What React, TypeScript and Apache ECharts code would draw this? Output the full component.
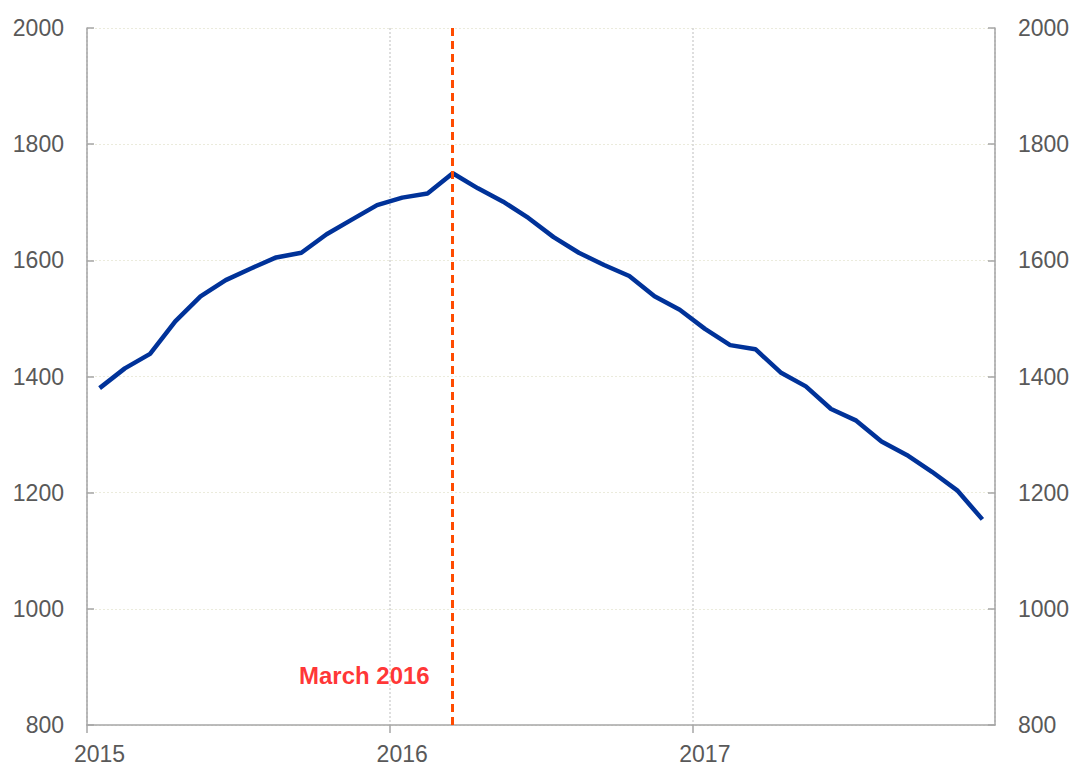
import React, { useEffect, useRef } from "react";
import * as echarts from "echarts";

// months since Jan 2015 (mid-month positions)
const months: number[] = Array.from({ length: 36 }, (_, i) => i + 0.5);
const values: number[] = [
  1380, 1414, 1439, 1495, 1538, 1566, 1586, 1605, 1613, 1645, 1670, 1695,
  1708, 1715, 1750, 1724, 1701, 1673, 1640, 1613, 1592, 1573, 1538, 1515,
  1482, 1454, 1447, 1407, 1383, 1344, 1324, 1288, 1265, 1236, 1204, 1154,
];
const startYear = 2015;
const markerMonth = 14.5; // March 2016
const markerLabel = "March 2016";
const markerLabelValue = 885;

export default function App() {
  const ref = useRef<HTMLDivElement>(null);
  useEffect(() => {
    if (!ref.current) return;
    const chart = echarts.init(ref.current, null, { renderer: "svg" });
    const font = "Arial, 'Liberation Sans', sans-serif";
    const labelColor = "#595959";
    const axisColor = "#a6a6a6";
    const yAxisBase = {
      type: "value",
      min: 800,
      max: 2000,
      interval: 200,
      axisLine: { show: true, lineStyle: { color: axisColor, width: 1.5 } },
      axisTick: { show: true, inside: true, length: 7, lineStyle: { color: axisColor, width: 1.5 } },
      axisLabel: {
        color: labelColor,
        fontSize: 23,
        fontFamily: font,
        margin: 23,
        formatter: (v: number) => String(v),
      },
    };
    chart.setOption({
      animation: false,
      backgroundColor: "#ffffff",
      grid: { left: 87, right: 83, top: 28, bottom: 42, containLabel: false },
      xAxis: {
        type: "value",
        min: 0,
        max: 36,
        interval: 12,
        axisLine: { show: true, onZero: false, lineStyle: { color: axisColor, width: 1.5 } },
        axisTick: { show: true, length: 8, lineStyle: { color: axisColor, width: 1.5 } },
        axisLabel: {
          color: labelColor,
          fontSize: 23,
          fontFamily: font,
          margin: 17,
          padding: [0, 0, 0, 25],
          showMaxLabel: false,
          formatter: (v: number) => (v >= 36 ? "" : String(startYear + v / 12)),
        },
        splitLine: { show: true, lineStyle: { color: "#d4d4d4", type: [2, 2], width: 1.5 } },
      },
      yAxis: [
        {
          ...yAxisBase,
          position: "left",
          splitLine: { show: true, lineStyle: { color: "#ebebdc", type: [2, 2], width: 1 } },
        },
        { ...yAxisBase, position: "right", splitLine: { show: false } },
      ],
      series: [
        {
          type: "line",
          data: months.map((m, i) => [m, values[i]]),
          showSymbol: false,
          symbol: "none",
          lineStyle: { color: "#003299", width: 4.5 },
          z: 3,
          markLine: {
            silent: true,
            symbol: "none",
            label: { show: false },
            lineStyle: { color: "#ff4b00", type: [8, 5], width: 3 },
            data: [{ xAxis: markerMonth }],
            z: 4,
          },
        },
        {
          type: "scatter",
          data: [[markerMonth, markerLabelValue]],
          symbolSize: 0,
          silent: true,
          label: {
            show: true,
            position: "left",
            distance: 23,
            formatter: markerLabel,
            color: "#ff0000",
            fontWeight: "bold",
            fontSize: 24,
            fontFamily: font,
          },
        },
      ],
    });
    return () => chart.dispose();
  }, []);
  return (
    <div
      ref={ref}
      style={{ position: "fixed", left: 0, top: 0, width: 1078, height: 767, background: "#fff" }}
    />
  );
}
